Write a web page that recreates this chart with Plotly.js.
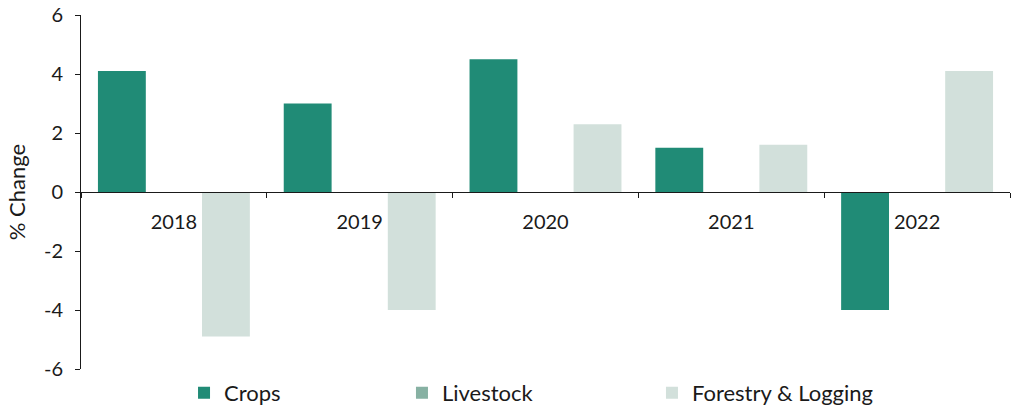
<!DOCTYPE html>
<html><head><meta charset="utf-8">
<script src="https://cdn.plot.ly/plotly-3.0.1.min.js"></script>
<style>html,body{margin:0;padding:0;background:#fff}#chart{width:1015px;height:408px}</style>
</head><body><div id="chart"></div>
<script>
const years = ["2018","2019","2020","2021","2022"];
const crops = [4.1, 3.0, 4.5, 1.5, -4.0];
const livestock = [0, 0, 0, 0, 0];
const forestry = [-4.9, -4.0, 2.3, 1.6, 4.1];
const yTicks = [-6,-4,-2,0,2,4,6];
const yTickText = yTicks.map(v => String(v));

const fam = "Lato, 'Open Sans', sans-serif";
const font = {family: fam, size: 20, color: "#1a1a1a"};
const legFont = {family: fam, size: 22, color: "#1a1a1a"};
const traces = [
  {type:"bar", name:"Crops", x:years, y:crops, marker:{color:"#208b76"}, legend:"legend"},
  {type:"bar", name:"Livestock", x:years, y:livestock, marker:{color:"#87b1a3"}, legend:"legend2"},
  {type:"bar", name:"Forestry & Logging", x:years, y:forestry, marker:{color:"#d2e0db"}, legend:"legend3"}
];
const legBase = {orientation:"h", y:-0.008, xanchor:"left", yanchor:"top", font:legFont, itemclick:false, bgcolor:"rgba(0,0,0,0)"};
const layout = {
  width:1015, height:408,
  margin:{l:81, r:5, t:15, b:39, autoexpand:false},
  font: font,
  paper_bgcolor:"#fff", plot_bgcolor:"#fff",
  barmode:"group", bargap:0.16, bargroupgap:0.08,
  showlegend:true,
  legend: Object.assign({}, legBase, {x:0.1109}),
  legend2: Object.assign({}, legBase, {x:0.3455}),
  legend3: Object.assign({}, legBase, {x:0.6146}),
  xaxis:{type:"category", anchor:"free", position:0.5, showline:true, linecolor:"#1a1a1a", linewidth:1,
         ticks:"outside", ticklen:5, tickcolor:"#1a1a1a", tickson:"boundaries", showgrid:false, zeroline:false,
         tickfont:font, ticklabelstandoff:12, automargin:false},
  yaxis:{range:[-6,6], tickvals:yTicks, ticktext:yTickText, ticks:"outside", ticklen:5, tickcolor:"#1a1a1a", showline:true,
         linecolor:"#1a1a1a", linewidth:1, showgrid:false, zeroline:false, tickfont:font, ticklabelstandoff:8, automargin:false,
         title:{text:"% Change", font:{family:fam, size:22, color:"#1a1a1a"}, standoff:12}}
};
Plotly.newPlot("chart", traces, layout, {displayModeBar:false, staticPlot:true});
</script></body></html>
